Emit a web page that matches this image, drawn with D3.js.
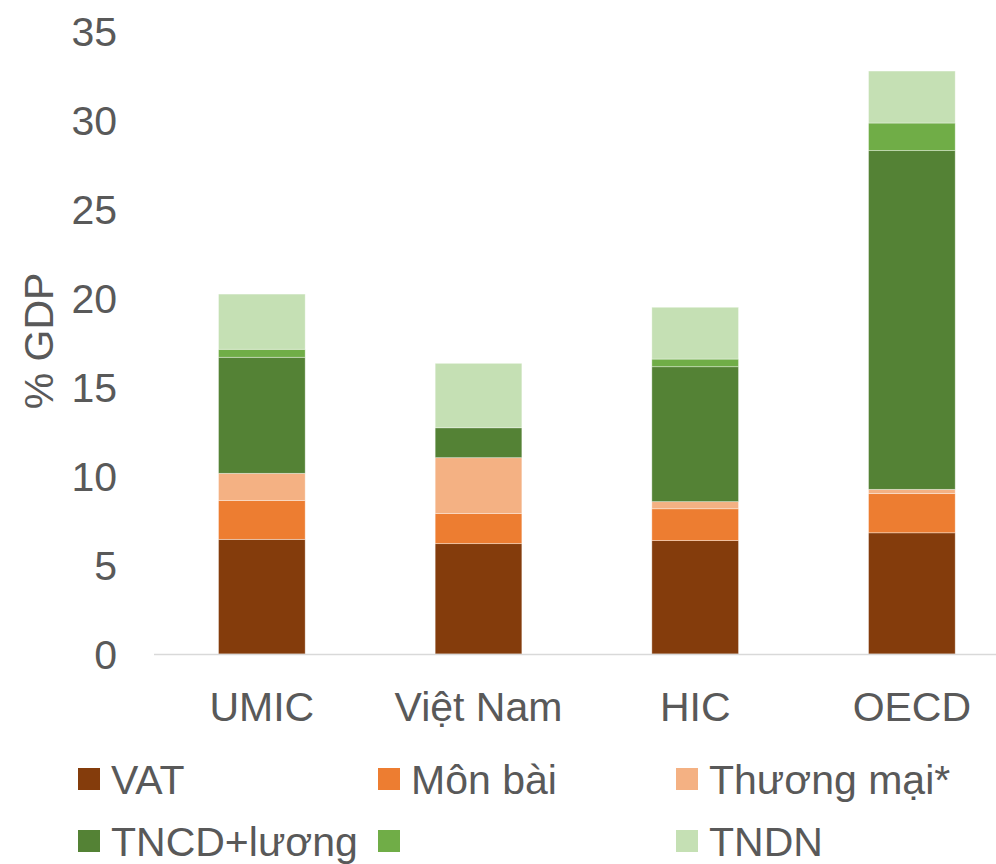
<!DOCTYPE html>
<html>
<head>
<meta charset="utf-8">
<script src="https://cdn.jsdelivr.net/npm/d3@7/dist/d3.min.js"></script>
<style>
  html, body { margin: 0; padding: 0; background: #ffffff; }
  svg { display: block; }
  text { font-family: "Liberation Sans", Arial, sans-serif; fill: #595959; }
</style>
</head>
<body>
<svg id="chart" width="996" height="864"></svg>
<script>
// ---- data ----
const categories = ["UMIC", "Việt Nam", "HIC", "OECD"];
const seriesNames = ["VAT", "Môn bài", "Thương mại*", "TNCD+lương", "", "TNDN"];
const seriesColors = ["#843C0C", "#ED7D31", "#F4B183", "#548235", "#70AD47", "#C5E0B4"];
const vat        = [6.44, 6.20, 6.37, 6.81];
const monBai     = [2.19, 1.70, 1.79, 2.20];
const thuongMai  = [1.52, 3.13, 0.40, 0.24];
const tncdLuong  = [6.52, 1.68, 7.58, 19.03];
const otherGreen = [0.45, 0.00, 0.43, 1.55];
const tndn       = [3.10, 3.62, 2.91, 2.92];
const yTicks = [0, 5, 10, 15, 20, 25, 30, 35];
const yTitle = "% GDP";

const seriesValues = [vat, monBai, thuongMai, tncdLuong, otherGreen, tndn];

// ---- layout ----
const FS = 41;
const svg = d3.select("#chart");
const y = d3.scaleLinear().domain([0, 35]).range([654, 31]);
const x = d3.scaleBand().domain(categories).range([153.5, 1020.2])
  .paddingInner(0.6).paddingOuter(0.3);

const rows = categories.map((c, i) => {
  const r = { cat: c };
  seriesValues.forEach((arr, k) => { r["s" + k] = arr[i]; });
  return r;
});
const keys = seriesValues.map((_, k) => "s" + k);
const stacked = d3.stack().keys(keys)(rows);

// bars
svg.append("g").selectAll("g")
  .data(stacked).join("g")
  .attr("fill", (d, k) => seriesColors[k])
  .selectAll("rect")
  .data(d => d).join("rect")
  .attr("x", d => x(d.data.cat))
  .attr("width", x.bandwidth())
  .attr("y", d => y(d[1]))
  .attr("height", d => Math.max(0, y(d[0]) - y(d[1])))
  .attr("stroke", "#ffffff")
  .attr("stroke-opacity", 0.45)
  .attr("stroke-width", 0.8);

// x axis line
svg.append("line")
  .attr("x1", 154).attr("x2", 996)
  .attr("y1", y(0) + 0.5).attr("y2", y(0) + 0.5)
  .attr("stroke", "#d9d9d9").attr("stroke-width", 1.5);

// y tick labels
const yAxis = d3.axisLeft(y).tickValues(yTicks).tickSize(0).tickPadding(0);
const yg = svg.append("g").attr("transform", "translate(117,0)").call(yAxis);
yg.select(".domain").remove();
yg.selectAll("text")
  .attr("font-size", FS)
  .attr("font-family", "Liberation Sans, Arial, sans-serif")
  .attr("fill", "#595959")
  .attr("dy", "0.36em");

// x labels
const xAxis = d3.axisBottom(x).tickSize(0).tickPadding(0);
const xg = svg.append("g").call(xAxis);
xg.select(".domain").remove();
xg.selectAll("text")
  .attr("y", 721).attr("dy", 0)
  .attr("font-size", FS)
  .attr("font-family", "Liberation Sans, Arial, sans-serif")
  .attr("fill", "#595959");

// y title
svg.append("text")
  .attr("transform", "translate(53,341) rotate(-90)")
  .attr("text-anchor", "middle")
  .attr("font-size", FS)
  .text(yTitle);

// legend
const legX = [78, 378, 676];
const legY = [779, 841];
const leg = svg.append("g");
seriesNames.forEach((name, k) => {
  const cx = legX[k % 3], cy = legY[Math.floor(k / 3)];
  leg.append("rect")
    .attr("x", cx).attr("y", cy - 11)
    .attr("width", 22).attr("height", 22)
    .attr("fill", seriesColors[k]);
  leg.append("text")
    .attr("x", cx + 33).attr("y", cy)
    .attr("dy", "0.36em")
    .attr("font-size", FS)
    .text(name);
});
</script>
</body>
</html>
